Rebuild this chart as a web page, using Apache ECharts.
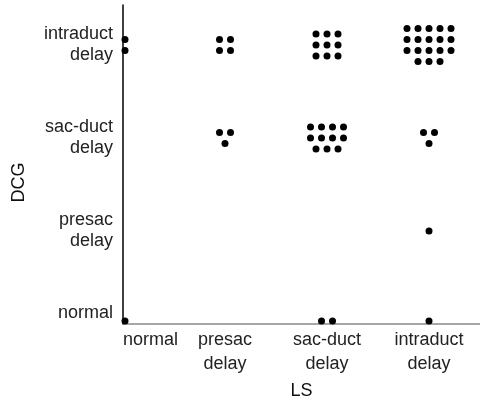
<!DOCTYPE html>
<html lang="en">
<head>
    <meta charset="UTF-8">
    <title>DCG vs LS</title>
    <style>
        html, body { margin: 0; padding: 0; background: #fff; }
        #container { width: 480px; height: 400px; }
    </style>
    <script src="https://cdn.jsdelivr.net/npm/echarts@6/dist/echarts.min.js"></script>
</head>
<body>
<div id="container"></div>
<script type="text/javascript">
    // categories (same levels on both axes)
    const lsLabels = ['normal', 'presac\ndelay', 'sac-duct\ndelay', 'intraduct\ndelay'];
    const dcgLabels = ['normal', 'presac\ndelay', 'sac-duct\ndelay', 'intraduct\ndelay'];

    // counts per LS category, one array per DCG level
    const dcgNormal = [1, 0, 2, 1];
    const dcgPresac = [0, 0, 0, 1];
    const dcgSacDuct = [0, 3, 11, 3];
    const dcgIntraduct = [2, 4, 9, 18];

    const counts = [dcgNormal, dcgPresac, dcgSacDuct, dcgIntraduct];

    const dotSize = 7;
    const gap = 11;

    // pack the dots of one cell into a little grid around its centre
    function cellOffsets(n, atLeft, atBottom) {
        let cols = atLeft ? 1 : Math.ceil(Math.sqrt(n));
        let rows = Math.ceil(n / cols);
        let out = [];
        for (let k = 0; k < n; k++) {
            let r = Math.floor(k / cols);
            let c = k % cols;
            let inRow = Math.min(cols, n - r * cols);
            let dx = (c - (inRow - 1) / 2) * gap;
            let dy = (r - (rows - 1) / 2) * gap;
            if (atLeft) dx += 2;
            if (atBottom) dy -= 3;
            out.push([dx, dy]);
        }
        return out;
    }

    let points = [];
    for (let j = 0; j < counts.length; j++) {
        for (let i = 0; i < counts[j].length; i++) {
            let n = counts[j][i];
            if (!n) continue;
            cellOffsets(n, i === 0, j === 0).forEach(function (off) {
                points.push({value: [i + 1, j + 1], symbolOffset: off});
            });
        }
    }

    function catLabel(list) {
        return function (v) {
            return Number.isInteger(v) && list[v - 1] ? list[v - 1] : '';
        };
    }

    const font = 'Liberation Sans';

    var myChart = echarts.init(document.getElementById('container'));
    var option = {
        backgroundColor: '#fff',
        animation: false,
        grid: {left: 123, right: 0, top: 5, bottom: 76, outerBoundsMode: 'none'},
        xAxis: {
            type: 'value',
            min: 1, max: 4.5, interval: 1,
            name: 'LS', nameLocation: 'middle', nameGap: 58,
            nameTextStyle: {fontFamily: font, fontSize: 18, color: '#111'},
            axisLine: {show: true, lineStyle: {color: '#8a8a8a', width: 1.5}},
            axisTick: {show: false},
            splitLine: {show: false},
            axisLabel: {
                formatter: catLabel(lsLabels),
                alignMinLabel: 'left',
                margin: 4,
                fontFamily: font, fontSize: 18, lineHeight: 24, color: '#222'
            }
        },
        yAxis: {
            type: 'value',
            min: 1, max: 4.43, interval: 1,
            name: 'DCG', nameLocation: 'middle', nameGap: 95,
            nameTextStyle: {fontFamily: font, fontSize: 18, color: '#111', padding: [0, 36, 0, 0]},
            axisLine: {show: true, lineStyle: {color: '#000', width: 1.5}},
            axisTick: {show: false},
            splitLine: {show: false},
            axisLabel: {
                formatter: catLabel(dcgLabels),
                verticalAlignMinLabel: 'bottom',
                margin: 10,
                fontFamily: font, fontSize: 18, lineHeight: 21, color: '#222'
            }
        },
        series: [{
            type: 'scatter',
            symbol: 'circle',
            symbolSize: dotSize,
            clip: false,
            itemStyle: {color: '#000', opacity: 1},
            data: points
        }]
    };
    myChart.setOption(option);
</script>
</body>
</html>
